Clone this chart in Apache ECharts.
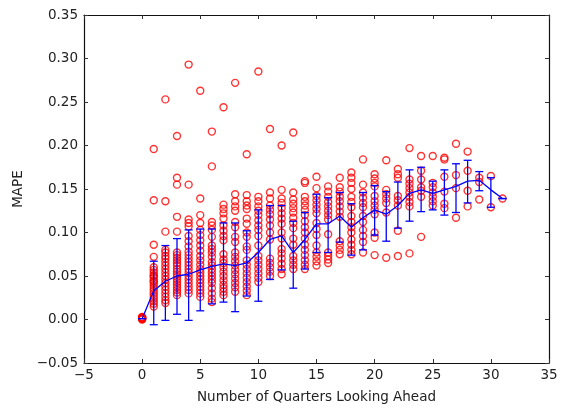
<!DOCTYPE html>
<html>
<head>
<meta charset="utf-8">
<script src="https://cdn.jsdelivr.net/npm/echarts@6/dist/echarts.min.js"></script>
<style>
  html, body { margin: 0; padding: 0; background: #fff; }
  #chart { width: 566px; height: 411px; }
</style>
</head>
<body>
<div id="chart"></div>
<script>
// MAPE per forecast horizon (quarters ahead)

// red circles: one list of MAPE values per horizon 0..31
const pointsByQuarter = [
  [0, 0.0005, 0.001, 0.0015, 0.002, 0.0025, 0.003],
  [0.196, 0.137, 0.086, 0.072, 0.060, 0.057, 0.054, 0.051, 0.048, 0.045, 0.042, 0.039, 0.036, 0.033, 0.030, 0.027, 0.024, 0.021, 0.018, 0.015, 0.050, 0.044],
  [0.253, 0.136, 0.101, 0.080, 0.077, 0.073, 0.070, 0.066, 0.062, 0.058, 0.054, 0.050, 0.046, 0.042, 0.038, 0.034, 0.030, 0.026, 0.022, 0.019],
  [0.211, 0.163, 0.155, 0.118, 0.101, 0.077, 0.074, 0.071, 0.068, 0.065, 0.062, 0.058, 0.055, 0.052, 0.049, 0.046, 0.043, 0.040, 0.037, 0.034, 0.031, 0.028],
  [0.293, 0.155, 0.115, 0.111, 0.107, 0.096, 0.090, 0.084, 0.078, 0.074, 0.070, 0.066, 0.062, 0.058, 0.054, 0.050, 0.046, 0.042, 0.038, 0.034, 0.030],
  [0.263, 0.139, 0.120, 0.111, 0.103, 0.097, 0.091, 0.085, 0.079, 0.073, 0.068, 0.063, 0.058, 0.054, 0.050, 0.046, 0.042, 0.038, 0.034, 0.030, 0.026],
  [0.216, 0.176, 0.112, 0.108, 0.103, 0.095, 0.085, 0.081, 0.077, 0.072, 0.066, 0.062, 0.058, 0.054, 0.050, 0.046, 0.042, 0.036, 0.030, 0.024, 0.020],
  [0.244, 0.132, 0.127, 0.122, 0.116, 0.108, 0.102, 0.096, 0.091, 0.075, 0.069, 0.065, 0.060, 0.055, 0.050, 0.045, 0.040, 0.036, 0.032, 0.028],
  [0.272, 0.144, 0.136, 0.130, 0.125, 0.112, 0.106, 0.095, 0.089, 0.077, 0.072, 0.067, 0.062, 0.057, 0.052, 0.047, 0.042, 0.037, 0.032],
  [0.190, 0.143, 0.136, 0.131, 0.127, 0.116, 0.110, 0.100, 0.095, 0.084, 0.080, 0.068, 0.063, 0.058, 0.053, 0.048, 0.043, 0.038, 0.033, 0.028],
  [0.285, 0.141, 0.136, 0.130, 0.125, 0.120, 0.114, 0.108, 0.103, 0.096, 0.085, 0.073, 0.068, 0.063, 0.058, 0.053, 0.048, 0.043],
  [0.219, 0.146, 0.139, 0.131, 0.126, 0.121, 0.115, 0.108, 0.100, 0.092, 0.070, 0.065, 0.060, 0.055, 0.050],
  [0.200, 0.149, 0.139, 0.134, 0.128, 0.122, 0.116, 0.110, 0.100, 0.093, 0.081, 0.076, 0.070, 0.064, 0.058, 0.052],
  [0.215, 0.146, 0.138, 0.133, 0.128, 0.123, 0.117, 0.111, 0.105, 0.093, 0.086, 0.073, 0.068, 0.063, 0.058],
  [0.159, 0.157, 0.141, 0.136, 0.131, 0.126, 0.120, 0.113, 0.106, 0.100, 0.093, 0.086, 0.080, 0.074, 0.068, 0.063, 0.058],
  [0.164, 0.151, 0.142, 0.137, 0.132, 0.127, 0.122, 0.111, 0.104, 0.097, 0.085, 0.077, 0.072, 0.067, 0.062],
  [0.153, 0.147, 0.141, 0.135, 0.130, 0.125, 0.120, 0.115, 0.098, 0.077, 0.073, 0.069, 0.065],
  [0.163, 0.152, 0.147, 0.141, 0.136, 0.130, 0.124, 0.118, 0.090, 0.085, 0.080, 0.075],
  [0.169, 0.163, 0.157, 0.150, 0.141, 0.135, 0.129, 0.119, 0.112, 0.106, 0.100, 0.092, 0.086, 0.080, 0.075],
  [0.184, 0.155, 0.146, 0.140, 0.134, 0.129, 0.119, 0.112, 0.103, 0.096, 0.089, 0.077],
  [0.167, 0.162, 0.157, 0.153, 0.142, 0.136, 0.131, 0.126, 0.121, 0.100, 0.094, 0.074],
  [0.183, 0.149, 0.144, 0.139, 0.134, 0.123, 0.071],
  [0.173, 0.167, 0.163, 0.142, 0.137, 0.131, 0.102, 0.073],
  [0.197, 0.161, 0.156, 0.151, 0.146, 0.141, 0.135, 0.130, 0.076],
  [0.188, 0.171, 0.161, 0.152, 0.148, 0.141, 0.095],
  [0.188, 0.157, 0.152, 0.146, 0.141, 0.136, 0.131],
  [0.186, 0.184, 0.164, 0.147, 0.133, 0.128],
  [0.202, 0.166, 0.151, 0.117],
  [0.193, 0.171, 0.148, 0.130],
  [0.163, 0.158, 0.138],
  [0.165, 0.129],
  [0.139]
];

// blue line and error bars
const quarters = [0, 1, 2, 3, 4, 5, 6, 7, 8, 9, 10, 11, 12, 13, 14, 15, 16, 17, 18, 19, 20, 21, 22, 23, 24, 25, 26, 27, 28, 29, 30, 31];
const meanMape = [0.001, 0.033, 0.044, 0.050, 0.052, 0.057, 0.061, 0.064, 0.062, 0.065, 0.077, 0.092, 0.096, 0.077, 0.092, 0.110,
                  0.110, 0.119, 0.106, 0.117, 0.126, 0.121, 0.131, 0.145, 0.149, 0.145, 0.149, 0.153, 0.159, 0.160, 0.149, 0.139];
const errLow = [0.001, -0.006, -0.001, 0.006, -0.001, 0.010, 0.018, 0.020, 0.009, 0.027, 0.021, 0.046, 0.057, 0.036, 0.058, 0.077,
                0.077, 0.089, 0.074, 0.080, 0.097, 0.090, 0.105, 0.113, 0.124, 0.126, 0.120, 0.123, 0.134, 0.148, 0.129, 0.139];
const errHigh = [0.001, 0.067, 0.085, 0.093, 0.103, 0.104, 0.104, 0.111, 0.111, 0.102, 0.126, 0.131, 0.131, 0.113, 0.123, 0.144,
                 0.140, 0.146, 0.133, 0.146, 0.154, 0.147, 0.158, 0.172, 0.175, 0.159, 0.172, 0.179, 0.183, 0.170, 0.163, 0.139];

const xTicks = [-5, 35, 5];     // min, max, step
const yTicks = [-0.05, 0.35, 0.05];

// --- build series data ---
const scatterData = [];
pointsByQuarter.forEach((vals, q) => {
    vals.forEach(v => scatterData.push([q, v]));
});
const lineData = quarters.map((q, i) => [q, meanMape[i]]);
const errData = quarters.map((q, i) => [q, errLow[i], errHigh[i]]);

const minus = s => s.replace('-', '\u2212');
const BLUE = '#0000ff';
const txt = { color: '#222', fontFamily: 'DejaVu Sans', fontSize: 13.5 };

function renderErrBar(params, api) {
    const x = api.value(0);
    const top = api.coord([x, api.value(2)]);
    const bot = api.coord([x, api.value(1)]);
    const cap = 4;
    const style = { stroke: BLUE, lineWidth: 1.3 };
    return {
        type: 'group',
        children: [
            { type: 'line', shape: { x1: top[0], y1: top[1], x2: bot[0], y2: bot[1] }, style },
            { type: 'line', shape: { x1: top[0] - cap, y1: top[1], x2: top[0] + cap, y2: top[1] }, style },
            { type: 'line', shape: { x1: bot[0] - cap, y1: bot[1], x2: bot[0] + cap, y2: bot[1] }, style }
        ]
    };
}

// frame lines stay on the plot edges (matplotlib box), not on zero
const axisLine = { show: true, onZero: false, lineStyle: { color: '#111', width: 1.2 } };
const tickIn = { show: true, inside: true, length: 4, lineStyle: { color: '#333' } };

const chart = echarts.init(document.getElementById('chart'));
chart.setOption({
    animation: false,
    backgroundColor: '#fff',
    grid: { left: 84, right: 17, top: 15, bottom: 48 },
    xAxis: [{
        type: 'value', min: xTicks[0], max: xTicks[1], interval: xTicks[2],
        name: 'Number of Quarters Looking Ahead', nameLocation: 'middle', nameGap: 27,
        nameTextStyle: txt,
        axisLine, axisTick: tickIn, splitLine: { show: false },
        axisLabel: Object.assign({ margin: 5, formatter: v => minus(String(v)) }, txt)
    }, {
        type: 'value', position: 'top', min: xTicks[0], max: xTicks[1], interval: xTicks[2],
        axisLine, axisTick: tickIn, axisLabel: { show: false }, splitLine: { show: false }
    }],
    yAxis: [{
        type: 'value', min: yTicks[0], max: yTicks[1], interval: yTicks[2],
        name: 'MAPE', nameLocation: 'middle', nameGap: 55,
        nameTextStyle: txt,
        axisLine, axisTick: tickIn, splitLine: { show: false },
        axisLabel: Object.assign({ margin: 6, formatter: v => minus(v.toFixed(2)) }, txt)
    }, {
        type: 'value', position: 'right', min: yTicks[0], max: yTicks[1], interval: yTicks[2],
        axisLine, axisTick: tickIn, axisLabel: { show: false }, splitLine: { show: false }
    }],
    series: [
        {
            type: 'scatter', data: scatterData,
            symbol: 'circle', symbolSize: 7,
            itemStyle: { color: 'rgba(255,255,255,0)', borderColor: '#ff0000', borderWidth: 1.4 },
            z: 2
        },
        {
            type: 'line', data: lineData, showSymbol: false,
            lineStyle: { color: BLUE, width: 1.3 }, z: 3
        },
        {
            type: 'custom', data: errData, renderItem: renderErrBar,
            encode: { x: 0, y: [1, 2] }, z: 4
        }
    ]
});
</script>
</body>
</html>
